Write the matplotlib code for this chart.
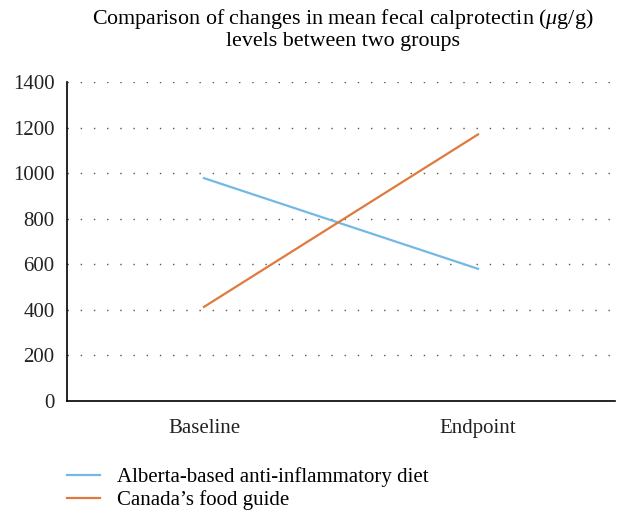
import matplotlib
matplotlib.use('Agg')
import matplotlib.pyplot as plt

# Data
timepoints = ["Baseline", "Endpoint"]
alberta_diet = [978, 580]
canada_guide = [413, 1170]
y_ticks = [0, 200, 400, 600, 800, 1000, 1200, 1400]

plt.rcParams['font.family'] = ['Liberation Serif', 'DejaVu Serif']
plt.rcParams['mathtext.fontset'] = 'custom'
plt.rcParams['mathtext.it'] = 'Liberation Serif:italic'

fig = plt.figure(figsize=(6.3, 5.29), dpi=100)
ax = fig.add_axes([0.1063, 0.242, 0.87, 0.603])

x = [0.5, 1.5]
ax.plot(x, alberta_diet, color='#74B8E4', lw=1.6,
        label='Alberta-based anti-inflammatory diet')
ax.plot(x, canada_guide, color='#E07A3C', lw=1.6,
        label='Canada\u2019s food guide')

ax.set_xlim(0, 2)
ax.set_ylim(0, 1400)
ax.set_xticks(x)
ax.set_xticklabels(timepoints)
ax.set_yticks(y_ticks)
ax.tick_params(length=0, labelsize=15, colors='#222222')
ax.tick_params(axis='x', pad=13)
ax.tick_params(axis='y', pad=9)

for v in y_ticks[1:]:
    ax.axhline(v, color='#555555', lw=1, linestyle=(0, (1, 8.5)), zorder=0)

for s in ['top', 'right']:
    ax.spines[s].set_visible(False)
for s in ['left', 'bottom']:
    ax.spines[s].set_linewidth(1.2)

fig.text(0.544, 0.945,
         'Comparison of changes in mean fecal calprotectin ($\\mathit{\\mu}$g/g)\nlevels between two groups',
         ha='center', va='center', fontsize=15.8, linespacing=1.05)

fig.legend(loc='upper left', bbox_to_anchor=(0.076, 0.152), frameon=False,
           fontsize=15, handlelength=1.6, handletextpad=0.8, labelspacing=0.15)

fig.savefig('out.png', dpi=100)
